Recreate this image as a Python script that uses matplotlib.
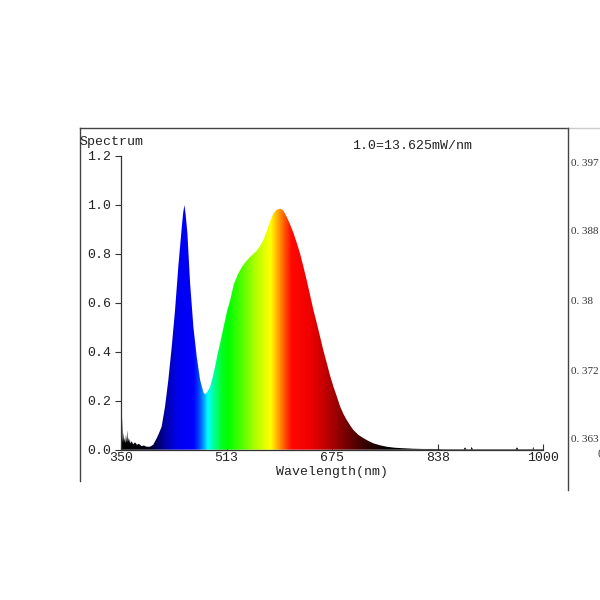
import numpy as np
import matplotlib
matplotlib.use("Agg")
import matplotlib.pyplot as plt
from matplotlib.colors import LinearSegmentedColormap, to_rgb
from matplotlib.lines import Line2D

# ---- data ----
wavelength = [350, 351, 351.5, 352.5, 353, 354, 355, 356, 357, 358, 359, 360, 361, 362, 363,
              364, 365, 367, 369, 372, 375, 378, 382, 386, 390, 395, 400, 405.4, 409, 413,
              418.2, 423.3, 428.5, 433.6, 438.7, 444, 446, 448, 450, 452.6, 456.8, 461.9,
              467, 472.2, 477.3, 479.9, 483, 487.6, 491, 495.3, 499, 503, 507, 510.7, 514,
              518.4, 524, 530, 536, 541.5, 548, 554, 560, 565, 570, 575, 580, 585, 590,
              595.4, 600, 605.7, 610, 615.9, 621, 626.2, 631, 636.5, 641.6, 646.7, 652,
              657, 662, 667.3, 672, 677.5, 683, 687.8, 693, 698, 703, 708.3, 716, 723.7,
              731, 739, 749, 759.7, 772, 785, 800, 815, 831, 850, 878, 880, 882, 889, 890,
              892, 930, 958, 960, 962, 984, 985, 986, 1000]
intensity = [0.03, 0.06, 0.02, 0.135, 0.03, 0.07, 0.03, 0.05, 0.025, 0.06, 0.03, 0.08, 0.03,
             0.05, 0.028, 0.045, 0.025, 0.035, 0.022, 0.03, 0.02, 0.024, 0.015, 0.017, 0.012,
             0.012, 0.02, 0.047, 0.068, 0.094, 0.176, 0.285, 0.42, 0.57, 0.75, 0.91, 0.965,
             1.0, 0.96, 0.885, 0.68, 0.50, 0.38, 0.285, 0.235, 0.226, 0.235, 0.257, 0.29,
             0.34, 0.39, 0.435, 0.485, 0.53, 0.57, 0.61, 0.675, 0.715, 0.745, 0.765, 0.785,
             0.80, 0.815, 0.835, 0.86, 0.895, 0.935, 0.965, 0.98, 0.985, 0.978, 0.95, 0.925,
             0.885, 0.845, 0.80, 0.75, 0.69, 0.63, 0.57, 0.515, 0.46, 0.405, 0.353, 0.305,
             0.257, 0.215, 0.176, 0.145, 0.121, 0.10, 0.08, 0.06, 0.047, 0.036, 0.026, 0.018,
             0.012, 0.008, 0.006, 0.004, 0.003, 0.003, 0.002, 0.002, 0.01, 0.002, 0.002,
             0.012, 0.002, 0.002, 0.002, 0.01, 0.002, 0.002, 0.012, 0.002, 0.002]

x_ticks = [350, 513, 675, 838, 1000]
y_ticks = [0.0, 0.2, 0.4, 0.6, 0.8, 1.0, 1.2]
right_labels = ["0. 397", "0. 388", "0. 38", "0. 372", "0. 363"]

# colour stops of the spectrum fill (wavelength, colour)
color_stops = [(350, "#000000"), (392, "#000010"), (402, "#000050"), (420, "#0000b0"),
               (438, "#0000f0"), (462, "#0000ff"), (470, "#0048ff"), (477, "#00a0ff"),
               (483, "#00ffff"), (492, "#00ffa0"), (505, "#00ff20"), (515, "#00ff00"),
               (535, "#50ff00"), (555, "#a8ff00"), (572, "#e8ff00"), (580, "#ffff00"),
               (591, "#ffa800"), (602, "#ff5000"), (612, "#ff0800"), (640, "#f00000"),
               (672, "#b00000"), (698, "#700000"), (729, "#300000"), (760, "#000000"),
               (1000, "#000000")]

mono = "Liberation Mono"

fig = plt.figure(figsize=(6, 6), dpi=100)
ax = fig.add_axes([0.2012, 0.2505, 0.7038, 0.4895])

x0, x1 = 350, 1000
stops = [((w - x0) / (x1 - x0), to_rgb(c)) for w, c in color_stops]
cmap = LinearSegmentedColormap.from_list("spec", stops, N=1024)
grad = np.linspace(0, 1, 1024).reshape(1, -1)

poly = ax.fill_between(wavelength, 0, intensity, color="none", lw=0)
im = ax.imshow(grad, cmap=cmap, aspect="auto", extent=[x0, x1, 0, 1.2],
               origin="lower", interpolation="bilinear", zorder=2)
for p in poly.get_paths():
    im.set_clip_path(p, transform=ax.transData)

ax.set_xlim(x0, x1)
ax.set_ylim(0, 1.2)
ax.set_xticks(x_ticks)
ax.set_xticklabels([str(t) for t in x_ticks], fontfamily=mono, fontsize=9.5)
ax.set_yticks(y_ticks)
ax.set_yticklabels([f"{t:.1f}" for t in y_ticks], fontfamily=mono, fontsize=9.5)
ax.tick_params(axis="x", direction="in", length=4, width=0.8, pad=2, colors="#333333",
               labelcolor="#222222")
ax.tick_params(axis="y", direction="out", length=4, width=0.8, pad=3, colors="#333333",
               labelcolor="#222222")
for s in ["top", "right"]:
    ax.spines[s].set_visible(False)
for s in ["left", "bottom"]:
    ax.spines[s].set_color("#333333")
    ax.spines[s].set_linewidth(0.9)
ax.set_xlabel("Wavelength(nm)", fontfamily=mono, fontsize=9.5, labelpad=1, color="#222222")

# frame and texts in figure pixel coordinates
def fx(px):
    return px / 600.0

def fy(py):
    return 1 - py / 600.0

fig.add_artist(Line2D([fx(80), fx(568)], [fy(128), fy(128)], color="#444444", lw=1.0))
fig.add_artist(Line2D([fx(568), fx(600)], [fy(128), fy(128)], color="#cccccc", lw=1.0))
fig.add_artist(Line2D([fx(80), fx(80)], [fy(128), fy(481)], color="#444444", lw=1.0))
fig.add_artist(Line2D([fx(568), fx(568)], [fy(128), fy(490)], color="#444444", lw=1.0))

fig.text(fx(80), fy(142), "Spectrum", fontfamily=mono, fontsize=9.5, ha="left",
         va="center", color="#222222")
fig.text(fx(352), fy(146), "1.0=13.625mW/nm", fontfamily=mono, fontsize=9.5, ha="left",
         va="center", color="#222222")

right_y = [163, 232, 302, 372, 440]
for lab, py in zip(right_labels, right_y):
    fig.text(fx(571), fy(py), lab, fontfamily="Liberation Serif", fontsize=8,
             ha="left", va="center", color="#333333")
fig.text(fx(597), fy(453), "(", fontfamily="Liberation Serif", fontsize=8,
         ha="left", va="center", color="#333333")

fig.savefig("out.png", dpi=100)
